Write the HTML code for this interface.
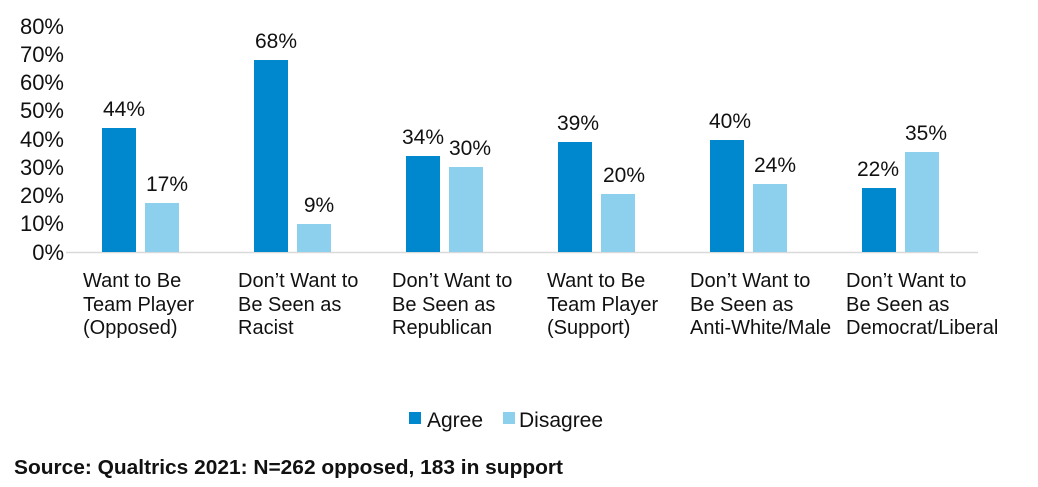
<!DOCTYPE html>
<html><head><meta charset="utf-8"><style>
html,body{margin:0;padding:0;background:#fff;}
svg{display:block;font-family:"Liberation Sans",Arial,sans-serif;}
</style></head><body>
<svg width="1038" height="487" viewBox="0 0 1038 487" xmlns="http://www.w3.org/2000/svg">
<g font-size="22" fill="#111" text-anchor="end">
<text x="64" y="34">80%</text>
<text x="64" y="62">70%</text>
<text x="64" y="90">60%</text>
<text x="64" y="118">50%</text>
<text x="64" y="147">40%</text>
<text x="64" y="175">30%</text>
<text x="64" y="203">20%</text>
<text x="64" y="231">10%</text>
<text x="64" y="260">0%</text>
</g>
<line x1="66" y1="252.5" x2="978" y2="252.5" stroke="#d9d9d9" stroke-width="1.5"/>
<g fill="#0088ce">
<rect x="102" y="128" width="34" height="124"/>
<rect x="254" y="60" width="34" height="192"/>
<rect x="406" y="156" width="34" height="96"/>
<rect x="558" y="142" width="34" height="110"/>
<rect x="710" y="140" width="34" height="112"/>
<rect x="862" y="188" width="34" height="64"/>
</g>
<g fill="#8dd0ee">
<rect x="145" y="203" width="34" height="49"/>
<rect x="297" y="224" width="34" height="28"/>
<rect x="449" y="167" width="34" height="85"/>
<rect x="601" y="194" width="34" height="58"/>
<rect x="753" y="184" width="34" height="68"/>
<rect x="905" y="152" width="34" height="100"/>
</g>
<g font-size="21" fill="#111" text-anchor="middle">
<text x="124" y="116">44%</text><text x="167" y="191">17%</text>
<text x="276" y="48">68%</text><text x="319" y="212">9%</text>
<text x="423" y="144">34%</text><text x="470" y="155">30%</text>
<text x="578" y="130">39%</text><text x="624" y="182">20%</text>
<text x="730" y="128">40%</text><text x="775" y="172">24%</text>
<text x="878" y="176">22%</text><text x="926" y="140">35%</text>
</g>
<g font-size="20" fill="#111">
<text x="83" y="287">Want to Be</text><text x="83" y="311">Team Player</text><text x="83" y="334">(Opposed)</text>
<text x="238" y="287">Don’t Want to</text><text x="238" y="311">Be Seen as</text><text x="238" y="334">Racist</text>
<text x="392" y="287">Don’t Want to</text><text x="392" y="311">Be Seen as</text><text x="392" y="334">Republican</text>
<text x="547" y="287">Want to Be</text><text x="547" y="311">Team Player</text><text x="547" y="334">(Support)</text>
<text x="690" y="287">Don’t Want to</text><text x="690" y="311">Be Seen as</text><text x="690" y="334">Anti-White/Male</text>
<text x="846" y="287">Don’t Want to</text><text x="846" y="311">Be Seen as</text><text x="846" y="334">Democrat/Liberal</text>
</g>
<rect x="409" y="412" width="12" height="12" fill="#0088ce"/>
<text x="427" y="427" font-size="21" fill="#111">Agree</text>
<rect x="503" y="412" width="12" height="12" fill="#8dd0ee"/>
<text x="519" y="427" font-size="21" fill="#111">Disagree</text>
<text x="14" y="474" font-size="20" font-weight="bold" fill="#111" textLength="549" lengthAdjust="spacingAndGlyphs">Source: Qualtrics 2021: N=262 opposed, 183 in support</text>
</svg>
</body></html>
